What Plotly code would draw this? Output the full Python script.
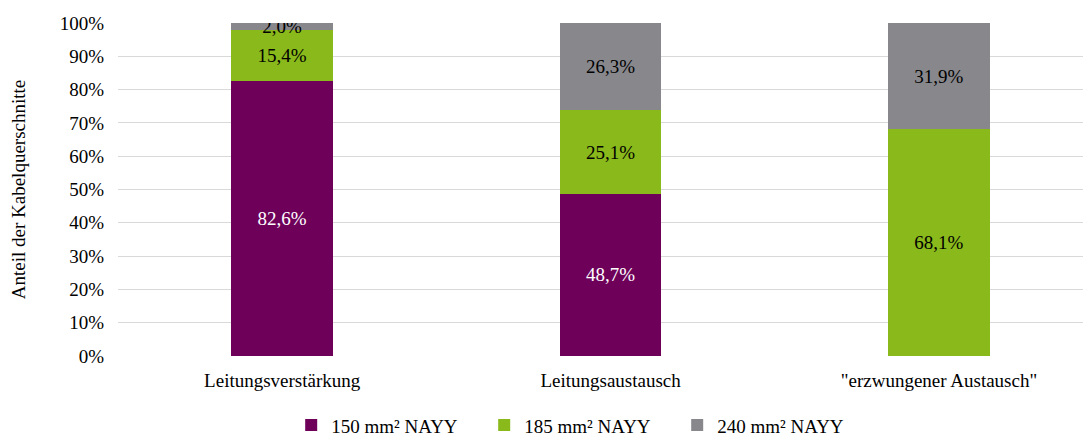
import plotly.graph_objects as go

categories = ["Leitungsverstärkung", "Leitungsaustausch", "\"erzwungener Austausch\""]
series_names = ["150 mm² NAYY", "185 mm² NAYY", "240 mm² NAYY"]
v150 = [82.6, 48.7, 0.0]
v185 = [15.4, 25.1, 68.1]
v240 = [2.0, 26.3, 31.9]
y_ticks = [0, 10, 20, 30, 40, 50, 60, 70, 80, 90, 100]

colors = ["#6E005A", "#8AB91B", "#87878C"]
text_colors = ["white", "black", "black"]
FONT = "Liberation Serif, Times New Roman, serif"
FS = 19

fig = go.Figure()
for name, vals, col, tcol in zip(series_names, [v150, v185, v240], colors, text_colors):
    fig.add_trace(go.Bar(
        x=categories, y=vals, name=name, marker_color=col, marker_line_width=0,
        text=[("%.1f%%" % v).replace(".", ",") if v > 0 else "" for v in vals],
        textposition="inside", insidetextanchor="middle", constraintext="none",
        textangle=0,
        textfont=dict(family=FONT, size=FS, color=tcol),
        width=0.31, hoverinfo="skip",
    ))

# page body has an 8px margin, so the figure is shifted by 8px right/down
fig.update_layout(
    barmode="stack",
    width=1091, height=437,
    margin=dict(l=110, r=8, t=15, b=89, autoexpand=False),
    plot_bgcolor="white", paper_bgcolor="white",
    font=dict(family=FONT, size=FS, color="black"),
    showlegend=True,
    legend=dict(orientation="h", x=0.178, xanchor="left", y=-0.208, yanchor="middle",
                font=dict(family=FONT, size=FS), itemwidth=30,
                entrywidth=148, entrywidthmode="pixels",
                traceorder="normal"),
    xaxis=dict(range=[-0.5, 2.463], showgrid=False, showline=False, ticks="",
               automargin=False, ticklabelstandoff=11,
               tickfont=dict(family=FONT, size=FS)),
    yaxis=dict(range=[0, 100], tickvals=y_ticks, ticktext=[f"{t}%" for t in y_ticks],
               showgrid=True, gridcolor="#D9D9D9", gridwidth=1, zeroline=False,
               showline=False, ticks="", ticklabelstandoff=13, automargin=False,
               title=dict(text="Anteil der Kabelquerschnitte", standoff=40,
                          font=dict(family=FONT, size=FS)),
               tickfont=dict(family=FONT, size=FS)),
)

fig.write_html("out.html")
